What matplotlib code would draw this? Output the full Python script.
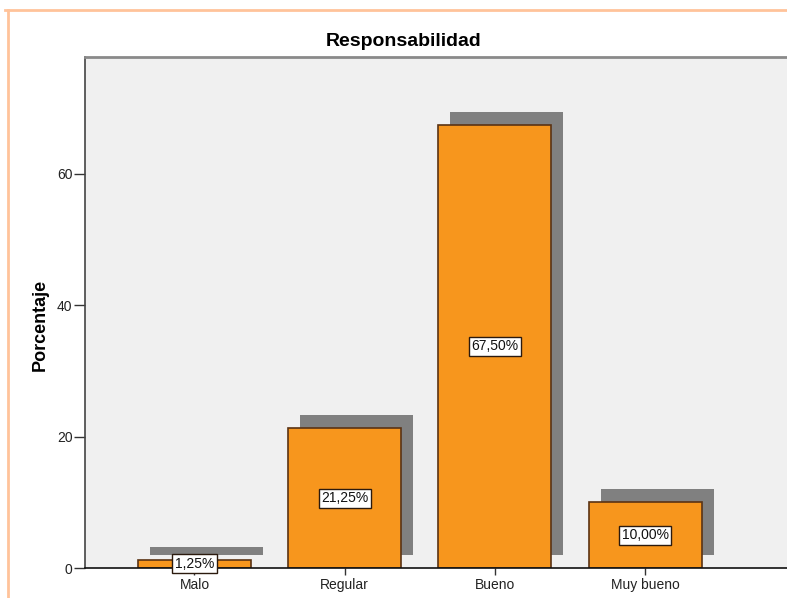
import matplotlib
matplotlib.use("Agg")
import matplotlib.pyplot as plt
from matplotlib.lines import Line2D
from matplotlib.transforms import offset_copy

plt.rcParams["font.family"] = ["Liberation Sans", "DejaVu Sans"]

categories = ["Malo", "Regular", "Bueno", "Muy bueno"]
percentages = [1.25, 21.25, 67.50, 10.00]
labels = ["1,25%", "21,25%", "67,50%", "10,00%"]
y_ticks = [0, 20, 40, 60]

BAR_COLOR = "#F7961D"
EDGE_COLOR = "#5A3314"
SHADOW_COLOR = "#808080"

fig = plt.figure(figsize=(7.87, 5.98), dpi=100)
fig.patch.set_facecolor("white")

# outer frame lines of the output page
fig.add_artist(Line2D([5 / 787, 1.0], [1 - 10 / 598] * 2, color="#FFC39A", lw=2))
fig.add_artist(Line2D([8 / 787] * 2, [0.0, 1 - 10 / 598], color="#FFC39A", lw=2))

ax = fig.add_axes([85 / 787, 1 - 568 / 598, (803 - 85) / 787, (568 - 57) / 598])
ax.set_facecolor("#F0F0F0")

x = list(range(len(categories)))
width = 0.752

# drop shadow: same bars shifted a few pixels up and right
shadow_tf = offset_copy(ax.transData, fig=fig, x=12, y=13, units="dots")
ax.bar(x, percentages, width=width, color=SHADOW_COLOR, transform=shadow_tf, zorder=1)
ax.bar(x, percentages, width=width, color=BAR_COLOR, edgecolor=EDGE_COLOR,
       linewidth=1.2, zorder=2)

for xi, val, lab in zip(x, percentages, labels):
    ax.text(xi, val / 2, lab, ha="center", va="center", fontsize=10, color="#111111",
            zorder=5, clip_on=False,
            bbox=dict(boxstyle="square,pad=0.18", fc="white", ec="#2B1A0E", lw=1))

ax.set_xlim(-0.7285, 4.05)
ax.set_ylim(0, 77.8)
ax.set_xticks(x)
ax.set_xticklabels(categories, fontsize=10, color="#222222")
ax.set_yticks(y_ticks)
ax.set_yticklabels([str(t) for t in y_ticks], fontsize=10, color="#222222")
ax.tick_params(axis="y", length=8, width=1, color="#333333", pad=1)
ax.tick_params(axis="x", length=5, width=1, color="#333333", pad=2)

ax.spines["left"].set_color("#444444")
ax.spines["left"].set_linewidth(1.2)
ax.spines["bottom"].set_color("#111111")
ax.spines["bottom"].set_linewidth(1.2)
ax.spines["bottom"].set_zorder(3)
ax.spines["top"].set_color("#8A8A8A")
ax.spines["top"].set_linewidth(2)
ax.spines["right"].set_visible(False)

ax.set_ylabel("Porcentaje", fontsize=13, fontweight="bold")
ax.yaxis.set_label_coords(-0.05, 0.476)
fig.text(404 / 787, 1 - 42 / 598, "Responsabilidad", ha="center", va="center",
         fontsize=14, fontweight="bold")

fig.savefig("out.png", dpi=100)
